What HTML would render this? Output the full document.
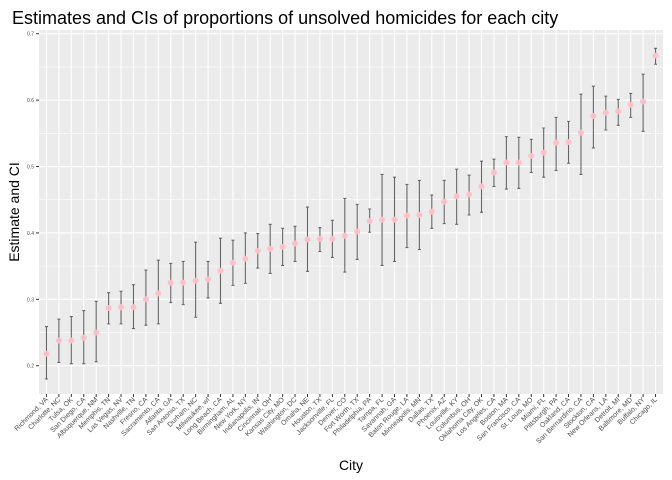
<!DOCTYPE html>
<html><head><meta charset="utf-8"><style>
body{margin:0;background:#fff;}
svg{display:block;font-family:"Liberation Sans",sans-serif;}
</style></head><body>
<svg id="chart" width="672" height="480">
<text x="12" y="24" font-size="18" fill="#000">Estimates and CIs of proportions of unsolved homicides for each city</text>
<rect x="39" y="30" width="624" height="364" fill="#ebebeb"/>
<g id="grid"></g><g id="marks"></g><g id="axes"></g>
<text x="351" y="470" font-size="14" text-anchor="middle" fill="#000">City</text>
<text transform="translate(19,212) rotate(-90)" font-size="14" text-anchor="middle" fill="#000">Estimate and CI</text>
</svg>
<script>
const cities=["Richmond, VA","Charlotte, NC","Tulsa, OK","San Diego, CA","Albuquerque, NM","Memphis, TN","Las Vegas, NV","Nashville, TN","Fresno, CA","Sacramento, CA","Atlanta, GA","San Antonio, TX","Durham, NC","Milwaukee, wI","Long Beach, CA","Birmingham, AL","New York, NY","Indianapolis, IN","Cincinnati, OH","Kansas City, MO","Washington, DC","Omaha, NE","Houston, TX","Jacksonville, FL","Denver, CO","Fort Worth, TX","Philadelphia, PA","Tampa, FL","Savannah, GA","Baton Rouge, LA","Minneapolis, MN","Dallas, TX","Phoenix, AZ","Louisville, KY","Columbus, OH","Oklahoma City, OK","Los Angeles, CA","Boston, MA","San Francisco, CA","St. Louis, MO","Miami, FL","Pittsburgh, PA","Oakland, CA","San Bernardino, CA","Stockton, CA","New Orleans, LA","Detroit, MI","Baltimore, MD","Buffalo, NY","Chicago, IL"];
const estimates=[0.218,0.238,0.238,0.242,0.250,0.287,0.288,0.288,0.300,0.309,0.325,0.325,0.328,0.330,0.343,0.355,0.361,0.373,0.376,0.379,0.384,0.390,0.391,0.391,0.396,0.402,0.418,0.420,0.420,0.426,0.427,0.432,0.447,0.455,0.458,0.470,0.491,0.506,0.506,0.516,0.521,0.536,0.537,0.551,0.576,0.581,0.583,0.593,0.598,0.667];
const lower=[0.180,0.205,0.203,0.203,0.206,0.263,0.263,0.256,0.261,0.263,0.295,0.292,0.273,0.302,0.294,0.321,0.324,0.347,0.339,0.351,0.357,0.342,0.372,0.363,0.341,0.360,0.401,0.351,0.357,0.378,0.375,0.407,0.414,0.413,0.427,0.431,0.470,0.466,0.467,0.491,0.484,0.494,0.505,0.488,0.528,0.555,0.562,0.574,0.553,0.654];
const upper=[0.259,0.270,0.274,0.283,0.297,0.310,0.312,0.322,0.344,0.359,0.354,0.357,0.386,0.357,0.392,0.389,0.400,0.399,0.413,0.407,0.410,0.439,0.408,0.419,0.452,0.443,0.436,0.488,0.484,0.473,0.479,0.457,0.479,0.496,0.487,0.508,0.511,0.545,0.544,0.541,0.558,0.574,0.568,0.609,0.621,0.606,0.601,0.610,0.639,0.678];
const yTicks=[0.2,0.3,0.4,0.5,0.6,0.7];
const yMinor=[0.25,0.35,0.45,0.55,0.65];

const NS="http://www.w3.org/2000/svg";
const PL=39,PR=663,PT=30,PB=394,YMIN=0.1574,YMAX=0.7056;
const n=cities.length;
const step=(PR-PL)/(n-1+1.2);
function xs(i){return PL+step*(0.6+i);}
function ys(v){return PB-(v-YMIN)/(YMAX-YMIN)*(PB-PT);}
function mk(tag,attrs,parent){const e=document.createElementNS(NS,tag);for(const k in attrs)e.setAttribute(k,attrs[k]);parent.appendChild(e);return e;}
const grid=document.getElementById('grid'),marks=document.getElementById('marks'),axes=document.getElementById('axes');
yMinor.forEach(v=>{const l=mk('line',{x1:PL,x2:PR,y1:ys(v),y2:ys(v),stroke:'#fff','stroke-width':0.6},grid);

});
yTicks.forEach(v=>{const l=mk('line',{x1:PL,x2:PR,y1:ys(v),y2:ys(v),stroke:'#fff','stroke-width':1.1},grid);


const t=mk('line',{x1:PL-3,x2:PL,y1:ys(v),y2:ys(v),stroke:'#333','stroke-width':1},axes);


const tx=mk('text',{x:PL-5,y:ys(v)+2,'font-size':5,'text-anchor':'end',fill:'#4d4d4d'},axes);
tx.textContent=v.toFixed(1);

});
cities.forEach((c,i)=>{const x=xs(i);
const g=mk('line',{x1:x,x2:x,y1:PT,y2:PB,stroke:'#fff','stroke-width':1.1},grid);


const eb=mk('path',{d:`M${x-1.5},${ys(upper[i])}H${x+1.5}M${x},${ys(upper[i])}V${ys(lower[i])}M${x-1.5},${ys(lower[i])}H${x+1.5}`,stroke:'#666','stroke-width':1.1,fill:'none'},marks);


const p=mk('circle',{cx:x,cy:ys(estimates[i]),r:3,fill:'#ffc0cb'},marks);


const t=mk('line',{x1:x,x2:x,y1:PB,y2:PB+3,stroke:'#333','stroke-width':1},axes);


const tx=mk('text',{transform:`translate(${x+2},${PB+6}) rotate(-45)`,'font-size':7,'text-anchor':'end',fill:'#4d4d4d'},axes);
tx.textContent=c;

});
</script>
</body></html>
